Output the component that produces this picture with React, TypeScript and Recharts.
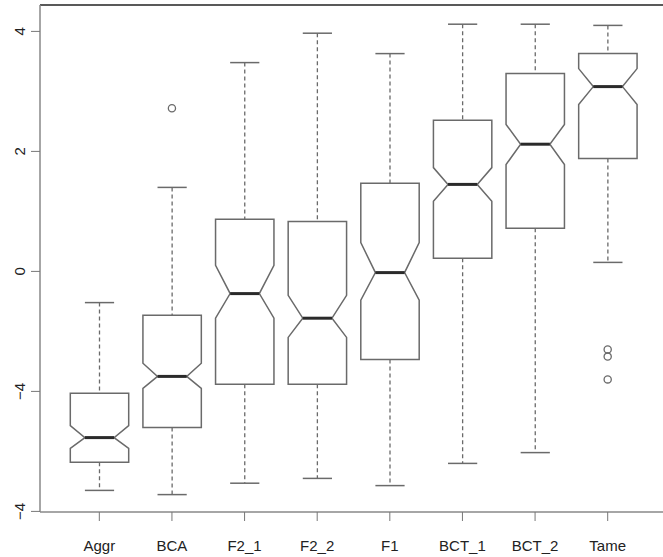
import React from 'react';
import {
  ComposedChart, Bar, Scatter, XAxis, YAxis, ReferenceLine,
} from 'recharts';

const groups = ['Aggr', 'BCA', 'F2_1', 'F2_2', 'F1', 'BCT_1', 'BCT_2', 'Tame'];
const whiskerLow = [-3.65, -3.72, -3.53, -3.45, -3.57, -3.2, -3.02, 0.15];
const q1 = [-3.18, -2.6, -1.88, -1.88, -1.47, 0.22, 0.72, 1.88];
const notchLow = [-2.95, -1.95, -0.78, -1.1, -0.48, 1.17, 1.78, 2.78];
const median = [-2.77, -1.75, -0.37, -0.78, -0.02, 1.45, 2.12, 3.08];
const notchHigh = [-2.57, -1.53, 0.1, -0.4, 0.48, 1.73, 2.45, 3.38];
const q3 = [-2.03, -0.73, 0.87, 0.83, 1.47, 2.52, 3.3, 3.63];
const whiskerHigh = [-0.52, 1.4, 3.48, 3.97, 3.63, 4.12, 4.12, 4.1];

const outlierGroups = ['BCA', 'Tame', 'Tame', 'Tame'];
const outlierValues = [2.72, -1.3, -1.42, -1.8];

const yTicks = [4, 2, 0, -2, -4];
const yTickLabels = ['4', '2', '0', '\u22124', '\u22124'];

const Y_MIN = -4.01;
const Y_MAX = 4.44;

const rows = groups.map((name, i) => ({
  name,
  range: [whiskerLow[i], whiskerHigh[i]],
  lo: whiskerLow[i],
  q1: q1[i],
  nLo: notchLow[i],
  med: median[i],
  nHi: notchHigh[i],
  q3: q3[i],
  hi: whiskerHigh[i],
}));

const outliers = outlierValues.map((value, i) => ({ name: outlierGroups[i], value }));

const FONT = '"Liberation Sans", Arial, sans-serif';
const BOX = '#6a6a6a';

// the bar spans the whisker range; the box is drawn inside it on the same scale
function BoxShape(props: any) {
  const { x, y, width, height, payload } = props;
  const top = Math.min(y, y + height);
  const bottom = Math.max(y, y + height);
  const { lo, hi } = payload;
  const py = (v: number) => top + ((hi - v) / (hi - lo)) * (bottom - top);
  const cx = x + width / 2;
  const hw = width * 0.4;
  const cap = width * 0.2;
  const pts = [
    [cx - hw, py(payload.q3)],
    [cx + hw, py(payload.q3)],
    [cx + hw, py(payload.nHi)],
    [cx + hw / 2, py(payload.med)],
    [cx + hw, py(payload.nLo)],
    [cx + hw, py(payload.q1)],
    [cx - hw, py(payload.q1)],
    [cx - hw, py(payload.nLo)],
    [cx - hw / 2, py(payload.med)],
    [cx - hw, py(payload.nHi)],
  ].map((p) => p.join(',')).join(' ');
  return (
    <g>
      <line x1={cx} x2={cx} y1={py(hi)} y2={py(payload.q3)} stroke={BOX} strokeWidth={1.3} strokeDasharray="4 3" />
      <line x1={cx} x2={cx} y1={py(payload.q1)} y2={py(lo)} stroke={BOX} strokeWidth={1.3} strokeDasharray="4 3" />
      <line x1={cx - cap} x2={cx + cap} y1={py(hi)} y2={py(hi)} stroke={BOX} strokeWidth={1.5} />
      <line x1={cx - cap} x2={cx + cap} y1={py(lo)} y2={py(lo)} stroke={BOX} strokeWidth={1.5} />
      <polygon points={pts} fill="none" stroke={BOX} strokeWidth={1.5} />
      <line x1={cx - hw / 2} x2={cx + hw / 2} y1={py(payload.med)} y2={py(payload.med)} stroke="#2a2a2a" strokeWidth={3} />
    </g>
  );
}

function OutlierDot(props: any) {
  const { cx, cy } = props;
  return <circle cx={cx} cy={cy} r={3.6} fill="none" stroke={BOX} strokeWidth={1.3} />;
}

function XTick(props: any) {
  const { x, y, payload } = props;
  return (
    <text x={x} y={y} dy={28} textAnchor="middle" fontFamily={FONT} fontSize={15} fill="#222">
      {payload.value}
    </text>
  );
}

function YTick(props: any) {
  const { x, y, payload } = props;
  const i = yTicks.indexOf(payload.value);
  const tx = x - 4;
  return (
    <text x={tx} y={y} textAnchor="middle" transform={`rotate(-90, ${tx}, ${y})`}
      fontFamily={FONT} fontSize={15} fill="#222">
      {i >= 0 ? yTickLabels[i] : payload.value}
    </text>
  );
}

export default function App() {
  return (
    <div style={{ position: 'absolute', left: 0, top: 0, width: 663, height: 557, overflow: 'hidden', background: '#fff' }}>
      <ComposedChart
        width={667}
        height={557}
        data={rows}
        margin={{ top: 5, right: 0, bottom: 0, left: 0 }}
        barCategoryGap={0}
        barGap={0}
      >
        <XAxis
          dataKey="name"
          type="category"
          allowDuplicatedCategory={false}
          padding={{ left: 23, right: 23 }}
          height={45}
          tickSize={9}
          tickLine={{ stroke: '#777' }}
          axisLine={{ stroke: '#888', strokeWidth: 1.5 }}
          tick={<XTick />}
          interval={0}
        />
        <YAxis
          type="number"
          domain={[Y_MIN, Y_MAX]}
          allowDataOverflow
          ticks={yTicks}
          width={40}
          tickSize={9}
          tickLine={{ stroke: '#777' }}
          axisLine={{ stroke: '#888', strokeWidth: 1.5 }}
          tick={<YTick />}
        />
        <ReferenceLine y={Y_MAX} stroke="#222" strokeWidth={1.5} ifOverflow="visible" />
        <Bar dataKey="range" shape={<BoxShape />} isAnimationActive={false} />
        <Scatter data={outliers} dataKey="value" shape={<OutlierDot />} isAnimationActive={false} />
      </ComposedChart>
    </div>
  );
}
